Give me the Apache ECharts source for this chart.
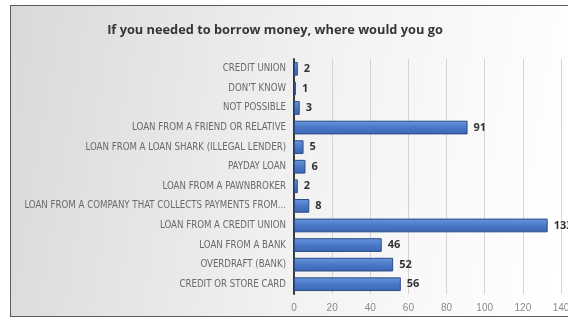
<!DOCTYPE html>
<html>
<head>
<meta charset="utf-8">
<script src="https://cdn.jsdelivr.net/npm/echarts@6/dist/echarts.min.js"></script>
<style>
  html, body { margin: 0; padding: 0; width: 568px; height: 324px; overflow: hidden; background: #ffffff; }
  #frame { position: absolute; left: 10px; top: 5px; width: 575px; height: 312px; border: 1px solid #5a5a5a; box-sizing: border-box; }
  #chart { width: 100%; height: 100%; }
</style>
</head>
<body>
<div id="frame"><div id="chart"></div></div>
<script>
// Survey answers, listed bottom-to-top as the category axis draws them
const categories = [
  'CREDIT OR STORE CARD',
  'OVERDRAFT (BANK)',
  'LOAN FROM A BANK',
  'LOAN FROM A CREDIT UNION',
  'LOAN FROM A COMPANY THAT COLLECTS PAYMENTS FROM...',
  'LOAN FROM A PAWNBROKER',
  'PAYDAY LOAN',
  'LOAN FROM A LOAN SHARK (ILLEGAL LENDER)',
  'LOAN FROM A FRIEND OR RELATIVE',
  'NOT POSSIBLE',
  "DON'T KNOW",
  'CREDIT UNION'
];
const responses = [56, 52, 46, 133, 8, 2, 6, 5, 91, 3, 1, 2];
const xTicks = { min: 0, max: 140, interval: 20 };

const chart = echarts.init(document.getElementById('chart'), null, { renderer: 'canvas' });
chart.setOption({
  animation: false,
  backgroundColor: {
    type: 'linear', x: 0, y: 0, x2: 1, y2: 0.3,
    colorStops: [
      { offset: 0, color: '#d9d9d9' },
      { offset: 0.55, color: '#f2f2f2' },
      { offset: 1, color: '#ffffff' }
    ]
  },
  title: {
    text: 'If you needed to borrow money, where would you go',
    left: 259, top: 13, textAlign: 'center',
    textStyle: { fontFamily: 'Open Sans', fontSize: 12.8, fontWeight: 'bold', color: '#363636' }
  },
  grid: { left: 283, right: 23, top: 53, bottom: 22, containLabel: false },
  xAxis: {
    type: 'value', min: xTicks.min, max: xTicks.max, interval: xTicks.interval,
    axisLine: { show: false }, axisTick: { show: false },
    splitLine: { lineStyle: { color: '#d4d4d4', width: 1 } },
    axisLabel: { color: '#8a8a8a', fontSize: 10, fontFamily: 'Liberation Sans Narrow, Liberation Sans', margin: 9 }
  },
  yAxis: {
    type: 'category', data: categories,
    axisLine: { show: true, lineStyle: { color: '#3a3a3a', width: 2 } },
    axisTick: { show: false },
    axisLabel: { color: '#6a6a6a', fontSize: 9.6, fontFamily: 'Liberation Sans Narrow, DejaVu Sans Condensed', margin: 8 }
  },
  series: [{
    type: 'bar', data: responses, barCategoryGap: '30%',
    itemStyle: {
      color: {
        type: 'linear', x: 0, y: 0, x2: 0, y2: 1,
        colorStops: [
          { offset: 0, color: '#6a96dc' },
          { offset: 0.5, color: '#4a78c6' },
          { offset: 1, color: '#3b66b2' }
        ]
      },
      borderColor: '#2b4c86', borderWidth: 1
    },
    label: {
      show: true, position: 'right', distance: 6,
      color: '#333333', fontSize: 11, fontWeight: 'bold', fontFamily: 'Open Sans'
    }
  }]
});
</script>
</body>
</html>
